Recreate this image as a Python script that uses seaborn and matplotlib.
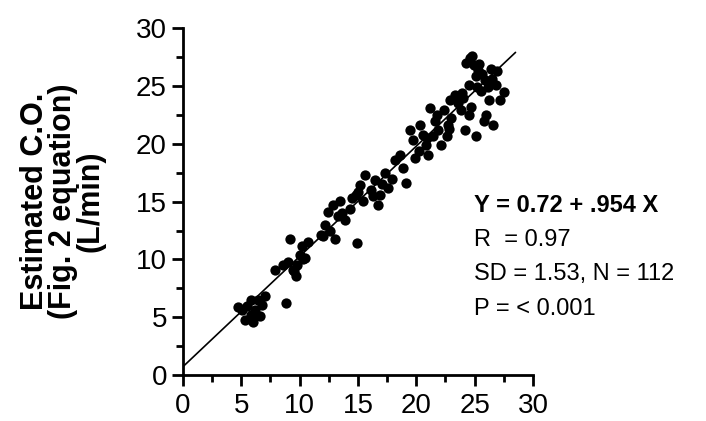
import numpy as np
import pandas as pd
import matplotlib
matplotlib.use("Agg")
import matplotlib.pyplot as plt
import seaborn as sns
from matplotlib.ticker import MultipleLocator

# measured vs estimated cardiac output
measured = [4.7, 5.3, 5.8, 6.2, 6.4, 6.8, 5.8, 5.5, 6.6, 6.0, 5.1, 7.0,
            8.8, 7.9, 8.6, 9.0, 9.2, 9.4, 9.8, 10.0, 10.2, 9.7, 10.5, 10.7, 9.5, 10.3,
            11.8, 12.2, 12.6, 13.0, 12.4, 12.9, 13.3, 13.5, 13.9, 14.3, 14.9, 12.0, 13.6,
            14.8, 15.2, 15.6, 15.4, 16.1, 16.5, 16.9, 17.3, 16.7, 17.6, 17.9, 18.2,
            18.6, 19.1, 18.9, 15.0, 16.3, 17.1, 14.5,
            19.5, 19.7, 20.2, 20.3, 20.8, 21.0, 21.2, 21.6, 21.4, 21.9, 22.1, 22.4,
            22.7, 22.9, 22.6, 19.9, 20.6, 21.8, 23.0,
            23.3, 23.8, 24.2, 24.5, 24.6, 24.9, 25.1, 25.3, 24.5, 25.5, 25.8, 25.9,
            26.2, 26.4, 26.6, 26.8, 27.2, 27.5, 26.0, 25.1, 24.0, 23.6, 24.3, 25.6,
            26.5, 24.8, 25.4, 26.9, 23.9, 24.7, 25.2, 26.1, 22.8, 20.9]
estimated = [5.9, 4.8, 5.2, 5.6, 6.5, 6.1, 6.5, 6.0, 5.1, 4.6, 5.6, 6.8,
             6.2, 9.1, 9.5, 9.8, 11.8, 9.1, 9.5, 10.4, 11.2, 8.6, 10.1, 11.5, 9.0, 10.0,
             12.1, 13.0, 12.5, 11.8, 14.1, 14.7, 13.8, 15.1, 13.4, 14.4, 11.4, 12.0, 14.0,
             15.6, 16.4, 17.3, 15.1, 16.0, 16.9, 15.6, 17.5, 14.7, 16.2, 17.0, 18.6,
             19.0, 16.6, 17.9, 15.8, 15.5, 16.5, 15.3,
             21.2, 20.3, 19.4, 21.6, 19.9, 19.0, 23.1, 22.0, 20.7, 21.2, 19.9, 22.9,
             21.6, 23.8, 20.7, 18.8, 20.8, 22.5, 22.2,
             24.2, 22.9, 21.2, 22.5, 27.4, 26.8, 25.9, 26.4, 25.1, 24.6, 22.0, 25.5,
             23.8, 26.5, 21.6, 25.1, 23.8, 24.5, 22.5, 20.7, 24.0, 23.5, 27.0, 26.0,
             25.6, 27.6, 26.9, 26.3, 24.4, 23.2, 24.9, 24.9, 21.3, 20.5]

intercept = 0.72
slope = 0.954
line_x = [0, 28.5]
line_y = [intercept + slope * v for v in line_x]

stats_lines = ["Y = 0.72 + .954 X", "R  = 0.97", "SD = 1.53, N = 112", "P = < 0.001"]

df = pd.DataFrame({"measured": measured, "estimated": estimated})

sns.set_style("ticks", {"axes.edgecolor": "black", "text.color": "black",
                        "xtick.color": "black", "ytick.color": "black",
                        "axes.labelcolor": "black"})
plt.rcParams["font.family"] = ["Liberation Sans", "DejaVu Sans"]

fig = plt.figure(figsize=(7.06, 4.21), dpi=100)
ax = fig.add_axes([0.259, 0.109, 0.496, 0.824])

sns.scatterplot(data=df, x="measured", y="estimated", color="black",
                s=55, edgecolor="black", linewidth=0, ax=ax, zorder=3)
sns.lineplot(x=line_x, y=line_y, color="black", linewidth=1.2, ax=ax)

ax.set_xlim(0, 30)
ax.set_ylim(0, 30)
ax.xaxis.set_major_locator(MultipleLocator(5))
ax.yaxis.set_major_locator(MultipleLocator(5))
ax.xaxis.set_minor_locator(MultipleLocator(2.5))
ax.yaxis.set_minor_locator(MultipleLocator(2.5))
ax.tick_params(which="major", length=8, width=2, labelsize=20, direction="out")
ax.tick_params(which="minor", length=5, width=2, direction="out")
ax.tick_params(axis="x", pad=5)
sns.despine(ax=ax)
for s in ["left", "bottom"]:
    ax.spines[s].set_linewidth(2)

ax.set_xlabel("")
ax.set_ylabel("Estimated C.O.\n(Fig. 2 equation)\n(L/min)", fontsize=22,
              fontweight="bold", linespacing=0.9, labelpad=22)

y0 = 0.513
for i, txt in enumerate(stats_lines):
    fig.text(0.671, y0 - i * 0.082, txt, fontsize=17,
             fontweight="bold" if i == 0 else "normal", va="center", ha="left")

fig.savefig("out.png", dpi=100)
